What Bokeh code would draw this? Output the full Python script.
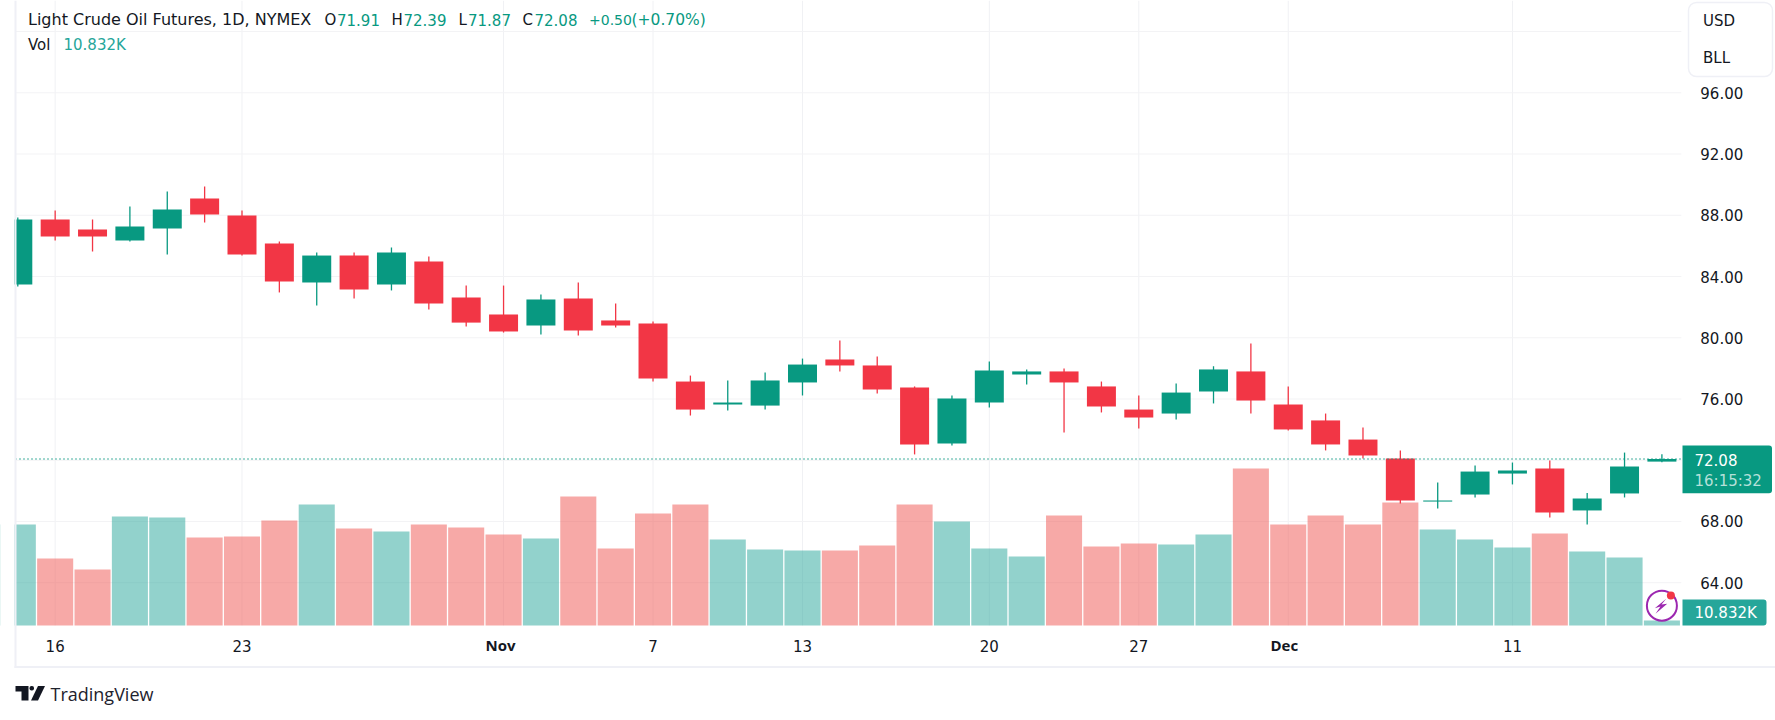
from bokeh.plotting import figure
from bokeh.embed import file_html
from bokeh.resources import INLINE
from bokeh.models import (Range1d, FixedTicker, Label, BoxAnnotation, PolyAnnotation, PrintfTickFormatter)

# ---------- data ----------
opens = [83.48,87.72,87.07,86.35,87.14,89.10,87.99,86.16,83.61,85.37,83.48,84.98,82.63,81.52,80.80,82.56,81.13,80.93,77.14,75.64,75.57,
         77.08,78.58,78.19,76.75,73.09,75.77,77.60,77.80,76.82,75.31,75.05,76.49,77.80,75.64,74.60,73.35,72.11,69.30,69.76,71.13,71.46,68.72,69.83,71.91]
highs = [87.86,88.31,87.72,88.57,89.55,89.88,88.31,86.29,85.57,85.57,85.90,85.31,83.41,83.41,82.83,83.61,82.24,81.06,77.53,77.21,77.73,
         78.64,79.82,78.78,76.82,76.23,78.45,77.93,77.99,77.14,76.23,77.01,78.14,79.63,76.82,75.05,74.14,72.64,70.55,71.66,71.85,71.98,69.86,72.50,72.39]
lows = [83.35,86.35,85.63,86.29,85.44,87.53,85.37,82.96,82.11,82.56,83.09,81.85,80.73,80.34,80.21,80.15,80.67,77.14,74.92,75.25,75.31,
        76.23,77.80,76.36,72.38,72.96,75.44,76.95,73.81,75.12,74.07,74.66,75.71,75.05,73.94,72.64,72.11,69.17,68.85,69.57,70.42,68.26,67.80,69.57,71.87]
closes = [87.72,86.61,86.61,87.27,88.38,88.05,85.44,83.67,85.37,83.15,85.57,82.24,80.99,80.41,82.50,80.47,80.80,77.34,75.31,75.77,77.21,
          78.25,78.19,76.62,73.03,76.03,77.86,77.80,77.08,75.51,74.79,76.42,77.93,75.90,74.01,73.03,72.31,69.37,69.37,71.26,71.33,68.59,69.50,71.59,72.08]
volumes = [218.8,145.1,121.3,236.1,233.9,190.6,192.8,227.4,262.1,210.1,203.6,218.8,212.3,197.1,188.4,279.4,166.8,242.6,262.1,186.3,164.6,
           162.5,162.5,173.3,262.1,225.3,166.8,149.5,238.3,171.1,177.6,175.4,197.1,340.1,218.8,238.3,218.8,266.4,207.9,186.3,168.9,199.3,160.3,147.3,10.832]
price_ticks = [64, 68, 76, 80, 84, 88, 92, 96]
grid_prices = [64, 68, 72, 76, 80, 84, 88, 92, 96, 100]
time_ticks = {1: "16", 6: "23", 17: "7", 21: "13", 26: "20", 30: "27", 40: "11"}
month_ticks = {13: "Nov", 34: "Dec"}
last_price = 72.08
header = [("Light Crude Oil Futures, 1D, NYMEX", 27.5, "#131722", "16px"), ("O", 324, "#131722", "15px"), ("71.91", 336.5, "#089981", "15px"),
          ("H", 391, "#131722", "15px"), ("72.39", 403, "#089981", "15px"), ("L", 458, "#131722", "15px"), ("71.87", 467.5, "#089981", "15px"),
          ("C", 522, "#131722", "15px"), ("72.08", 534, "#089981", "15px"), ("+0.50", 588.5, "#089981", "14px"), ("(+0.70%)", 631, "#089981", "15.5px")]

UP, DOWN, VUP, VDOWN = "#089981", "#F23645", "#26A69A", "#EF5350"
FONT, TXT, EDGE = "DejaVu Sans", "#131722", "#EFF0F6"
SIZE = "15px"
W, H = 1775, 720
X0, X1, Y0, Y1 = -0.0615, 44.52, 61.206, 102.029     # plot-area edges in data units

p = figure(width=W, height=H, output_backend="svg", toolbar_location=None, y_axis_location="right",
           x_range=Range1d(-0.463, 47.04), y_range=Range1d(55.0, Y1),
           min_border_left=0, min_border_right=0, min_border_top=0, min_border_bottom=0,
           outline_line_color=None, background_fill_color="white", border_fill_color="white")
p.extra_y_ranges = {"vol": Range1d(-205.77, 1353.75)}

# axes
ax = p.yaxis[0]
ax.fixed_location = X1
ax.ticker = FixedTicker(ticks=price_ticks)
ax.formatter = PrintfTickFormatter(format="%.2f")
ax.axis_line_color = None; ax.major_tick_line_color = None; ax.minor_tick_line_color = None
ax.major_label_standoff = 13
ax.major_label_text_font = FONT; ax.major_label_text_font_size = SIZE; ax.major_label_text_color = TXT
xa = p.xaxis[0]
xa.fixed_location = Y0
xa.ticker = FixedTicker(ticks=list(time_ticks))
xa.major_label_overrides = time_ticks
xa.axis_line_color = None; xa.major_tick_line_color = None; xa.minor_tick_line_color = None
xa.major_label_standoff = 9
xa.major_label_text_font = FONT; xa.major_label_text_font_size = SIZE; xa.major_label_text_color = TXT

# grid limited to the plot area
p.grid.visible = False
vgrid = list(time_ticks) + list(month_ticks)
p.segment(x0=vgrid, x1=vgrid, y0=[Y0] * len(vgrid), y1=[Y1] * len(vgrid), line_color="#F0F1F4", line_width=1)
p.segment(x0=[X0] * len(grid_prices), x1=[X1] * len(grid_prices), y0=grid_prices, y1=grid_prices, line_color="#F3F3F5", line_width=1)

# volume
idx = list(range(len(closes)))
up = [c >= o for o, c in zip(opens, closes)]
p.vbar(x=idx, top=volumes, bottom=0, width=0.965, y_range_name="vol",
       fill_color=[VUP if u else VDOWN for u in up], fill_alpha=0.5, line_color=None)
# candles
cols = [UP if u else DOWN for u in up]
p.segment(x0=idx, x1=idx, y0=lows, y1=highs, line_color=cols, line_width=1.3)
p.vbar(x=idx, top=[max(o, c) for o, c in zip(opens, closes)], bottom=[min(o, c) for o, c in zip(opens, closes)],
       width=0.776, fill_color=cols, line_color=None)
p.segment(x0=[X0], x1=[X1], y0=[last_price], y1=[last_price], line_color=UP, line_dash="1 3", line_width=1.6)

# helpers in canvas pixels
def txt(s, x, y, color=TXT, size=SIZE, weight="normal", font=FONT):
    p.add_layout(Label(x=x, y=y, x_units="canvas", y_units="canvas", text=s, text_color=color, text_font=font,
                       text_font_size=size, text_font_style=weight, text_baseline="middle", level="overlay"))
def box(l, r, t, b, fill, line=None, radius=0, lw=1):
    p.add_layout(BoxAnnotation(left=l, right=r, top=t, bottom=b, left_units="canvas", right_units="canvas",
                               top_units="canvas", bottom_units="canvas", fill_color=fill, fill_alpha=1,
                               line_color=line, line_width=lw, line_alpha=1, border_radius=radius, level="overlay"))
def poly(xs, ys, fill):
    p.add_layout(PolyAnnotation(xs=xs, ys=ys, xs_units="canvas", ys_units="canvas", fill_color=fill, fill_alpha=1, line_color=None, level="overlay"))

# left cover and frame lines
box(0, 14, 0, 720, "white")
box(14, 16, 0, 667.5, EDGE)
box(14, 1775, 665.5, 667.5, EDGE)

# month labels
txt(month_ticks[13], 485, 644.5, weight="bold", font="Open Sans")
txt(month_ticks[34], 1270, 644.5, weight="bold", font="Open Sans")

# header
for s, x, c, fs in header:
    txt(s, x, 19, c, fs)
txt("Vol", 27.5, 44)
txt("10.832K", 63, 44, VUP)

# currency box
box(1688, 1772, 2, 76, "white", EDGE, 8, 1.5)
txt("USD", 1702.5, 20.5)
txt("BLL", 1702.5, 57)

# price and volume tags
box(1682, 1771.5, 445, 492.7, UP, None, (0, 3, 3, 0))
txt("72.08", 1694, 459, "white")
txt("16:15:32", 1694, 480, "#B5E0D9")
box(1682, 1766, 599, 625, VUP, None, (0, 3, 3, 0))
txt("10.832K", 1694, 612.5, "white")

# lightning badge
p.scatter(x=[44], y=[62.5], size=30, marker="circle", fill_color="white", fill_alpha=0.6, line_color="#9C27B0", line_width=2)
poly([1665.7, 1654.3, 1660, 1655, 1666.7, 1661], [598.3, 607.7, 606, 613.3, 603.3, 604], "#9C27B0")
p.scatter(x=[44.24], y=[63.17], size=8, marker="circle", fill_color=DOWN, line_color=None)

# logo
LOGO = "#131722"
poly([15, 28, 28, 21, 21, 15], [685.5, 685.5, 700, 700, 691, 691], LOGO)
poly([37.5, 44.5, 37.5, 30.5], [685.5, 685.5, 700, 700], LOGO)
box(29, 33.5, 685.5, 690, LOGO, None, 2)
txt("TradingView", 50, 693, "#1E222D", "18px", font="Open Sans")

open("out.html", "w").write(file_html(p, INLINE))
